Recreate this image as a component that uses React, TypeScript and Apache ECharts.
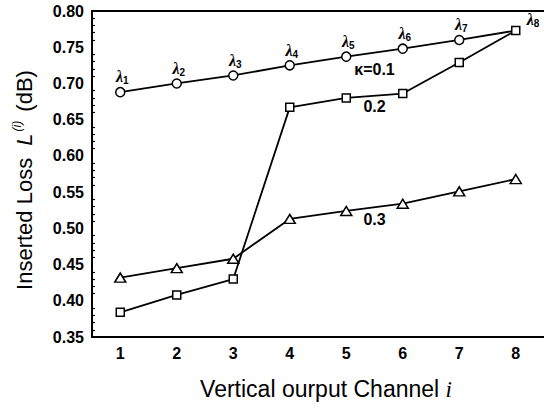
import React, { useEffect, useRef } from "react";
import * as echarts from "echarts";

const categories = ["1", "2", "3", "4", "5", "6", "7", "8"];
const kappa01 = [0.688, 0.700, 0.711, 0.725, 0.737, 0.748, 0.760, 0.773];
const kappa02 = [0.384, 0.408, 0.430, 0.667, 0.680, 0.686, 0.729, 0.773];
const kappa03 = [0.432, 0.445, 0.458, 0.513, 0.524, 0.534, 0.551, 0.568];
const lambdaSubs = ["1", "2", "3", "4", "5", "6", "7", "8"];
const curveNames = ["κ=0.1", "0.2", "0.3"];
const yTicks = { min: 0.35, max: 0.8, step: 0.05 };

const FONT = "'Liberation Sans', Arial, sans-serif";

export default function App() {
  const ref = useRef<HTMLDivElement>(null);
  useEffect(() => {
    if (!ref.current) return;
    const chart = echarts.init(ref.current, null, { renderer: "svg" });
    const lamRich = {
      l: { fontSize: 16, fontStyle: "italic", fontWeight: "bold", fontFamily: "'Liberation Serif', serif", color: "#000", lineHeight: 18 },
      s: { fontSize: 10, fontWeight: "bold", fontFamily: FONT, color: "#000", verticalAlign: "bottom", lineHeight: 10, padding: [8, 0, 0, 0] },
    };
    const baseLine = { color: "#000", width: 1.8 };
    const option: any = {
      animation: false,
      backgroundColor: "#fff",
      grid: { left: 92, right: 0, top: 11, bottom: 72, containLabel: false },
      xAxis: [
        {
          type: "category",
          data: categories,
          boundaryGap: true,
          axisLine: { lineStyle: { color: "#000", width: 2 } },
          axisTick: { inside: true, alignWithLabel: true, length: 5, lineStyle: { color: "#000", width: 1.5 } },
          axisLabel: { color: "#000", fontSize: 16, fontWeight: "bold", fontFamily: FONT, margin: 8 },
          splitLine: { show: false },
        },
        {
          type: "category",
          data: categories,
          position: "top",
          axisLine: { lineStyle: { color: "#000", width: 2 } },
          axisTick: { show: false },
          axisLabel: { show: false },
          splitLine: { show: false },
        },
      ],
      yAxis: {
        type: "value",
        min: yTicks.min,
        max: yTicks.max,
        interval: yTicks.step,
        axisLine: { show: true, lineStyle: { color: "#000", width: 2 } },
        axisTick: { inside: true, length: 6, lineStyle: { color: "#000", width: 1.5 } },
        minorTick: { show: true, splitNumber: 5, length: 3, lineStyle: { color: "#000", width: 1.2 } },
        axisLabel: {
          color: "#000",
          fontSize: 16,
          fontWeight: "bold",
          fontFamily: FONT,
          margin: 8,
          formatter: (v: number) => v.toFixed(2),
        },
        splitLine: { show: false },
      },
      series: [
        {
          name: curveNames[0],
          type: "line",
          data: kappa01.map((v, i) =>
            i === kappa01.length - 1
              ? {
                  value: v,
                  symbolSize: 0,
                  label: { position: "right", distance: 0, offset: [11, -11] },
                }
              : v
          ),
          symbol: "circle",
          symbolSize: 9,
          itemStyle: { color: "#fff", borderColor: "#000", borderWidth: 1.5 },
          lineStyle: baseLine,
          label: {
            show: true,
            position: "top",
            distance: 1,
            offset: [2, 0],
            formatter: (p: any) => `{l|λ}{s|${lambdaSubs[p.dataIndex]}}`,
            rich: lamRich,
          },
          z: 2,
        },
        {
          name: curveNames[2],
          type: "line",
          data: kappa03,
          symbol: "triangle",
          symbolSize: [11, 9],
          itemStyle: { color: "#fff", borderColor: "#000", borderWidth: 1.5 },
          lineStyle: baseLine,
          z: 3,
        },
        {
          name: curveNames[1],
          type: "line",
          data: kappa02,
          symbol: "rect",
          symbolSize: 8,
          itemStyle: { color: "#fff", borderColor: "#000", borderWidth: 1.5 },
          lineStyle: baseLine,
          z: 4,
        },
      ],
    };
    chart.setOption(option);

    const mid = (arr: number[]) => {
      const a = chart.convertToPixel({ gridIndex: 0 }, [4, arr[4]]) as number[];
      const b = chart.convertToPixel({ gridIndex: 0 }, [5, arr[5]]) as number[];
      return [(a[0] + b[0]) / 2, (a[1] + b[1]) / 2];
    };
    const m1 = mid(kappa01);
    const m2 = mid(kappa02);
    const m3 = mid(kappa03);
    const labStyle = (text: string) => ({
      text,
      fill: "#000",
      fontSize: 16,
      fontWeight: "bold",
      fontFamily: FONT,
      align: "center",
      verticalAlign: "middle",
    });
    chart.setOption({
      graphic: [
        { type: "text", x: m1[0], y: m1[1] + 17, style: labStyle(curveNames[0]) },
        { type: "text", x: m2[0], y: m2[1] + 11, style: labStyle(curveNames[1]) },
        { type: "text", x: m3[0], y: m3[1] + 12, style: labStyle(curveNames[2]) },
        {
          type: "text",
          x: 24,
          y: 180,
          rotation: Math.PI / 2,
          style: {
            text: "{n|Inserted Loss  }{i|L}{sup|(i)}{n| (dB)}",
            align: "center",
            verticalAlign: "middle",
            rich: {
              n: { fontSize: 22, fontFamily: FONT, fill: "#000", lineHeight: 26 },
              i: { fontSize: 22, fontFamily: FONT, fontStyle: "italic", fill: "#000", lineHeight: 26 },
              sup: { fontSize: 12, fontFamily: FONT, fontStyle: "italic", fill: "#000", verticalAlign: "top", lineHeight: 12, padding: [0, 3, 12, 2] },
            },
          },
        },
        {
          type: "text",
          x: 326,
          y: 389,
          style: {
            text: "{n|Vertical ourput Channel }{i|i}",
            align: "center",
            verticalAlign: "middle",
            rich: {
              n: { fontSize: 23, fontFamily: FONT, fill: "#000" },
              i: { fontSize: 23, fontFamily: "'Liberation Serif', serif", fontStyle: "italic", fill: "#000" },
            },
          },
        },
      ],
    });
    return () => chart.dispose();
  }, []);
  return (
    <div
      ref={ref}
      style={{ position: "fixed", left: 0, top: 0, width: 544, height: 409, background: "#fff" }}
    />
  );
}
